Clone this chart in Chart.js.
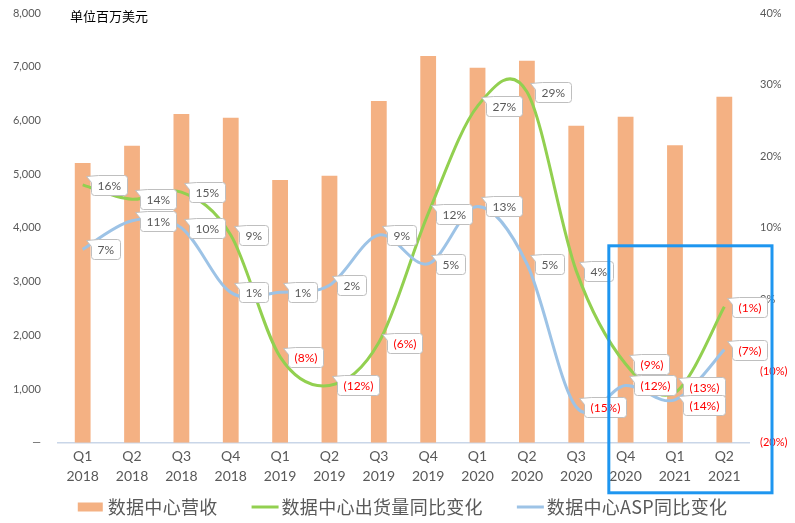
<!DOCTYPE html>
<html>
<head>
<meta charset="utf-8">
<script src="https://cdn.jsdelivr.net/npm/chart.js@4.4.1/dist/chart.umd.min.js"></script>
<style>
  html, body { margin: 0; padding: 0; background: #fff; }
  #wrap { width: 795px; height: 523px; }
</style>
</head>
<body>
<div id="wrap"><canvas id="chart"></canvas></div>
<script>
// categories
const quarters = [
  ['Q1', '2018'], ['Q2', '2018'], ['Q3', '2018'], ['Q4', '2018'],
  ['Q1', '2019'], ['Q2', '2019'], ['Q3', '2019'], ['Q4', '2019'],
  ['Q1', '2020'], ['Q2', '2020'], ['Q3', '2020'], ['Q4', '2020'],
  ['Q1', '2021'], ['Q2', '2021']
];
// data center revenue, USD million (left axis)
const revenue = [5210, 5530, 6120, 6050, 4890, 4970, 6360, 7200, 6980, 7110, 5900, 6070, 5540, 6440];
// YoY change, % (right axis)
const shipmentYoY = [16, 14, 15, 9, -8, -12, -6, 12, 27, 29, 4, -9, -13, -1];
const aspYoY = [7, 11, 10, 1, 1, 2, 9, 5, 13, 5, -15, -12, -14, -7];

const seriesNames = ['数据中心营收', '数据中心出货量同比变化', '数据中心ASP同比变化'];
const unitLabel = '单位百万美元';

const GREY = '#595959';
const RED = '#ff0000';
const fmtPct = v => v < 0 ? '(' + (-v) + '%)' : v + '%';
const cjkFont = '"Noto Sans CJK SC", "Noto Sans", sans-serif';
const numFont = 'Lato, "Liberation Sans", sans-serif';

// Excel-like smoothing: replace the bezier control points with catmull-rom ones
const excelSmooth = {
  id: 'excelSmooth',
  beforeDatasetsDraw(chart) {
    chart.data.datasets.forEach((d, di) => {
      if (d.type !== 'line') return;
      const meta = chart.getDatasetMeta(di);
      const pts = meta.dataset.points;
      pts.forEach((p, i) => {
        const prev = pts[i - 1] || p;
        const next = pts[i + 1] || p;
        const tx = (next.x - prev.x) / 6;
        const ty = (next.y - prev.y) / 6;
        p.cp1x = p.x - tx; p.cp1y = p.y - ty;
        p.cp2x = p.x + tx; p.cp2y = p.y + ty;
      });
      delete meta.dataset._path;
    });
  }
};

// callout style data labels on the two line series
const calloutLabels = {
  id: 'calloutLabels',
  afterDatasetsDraw(chart) {
    const ctx = chart.ctx;
    const h = 20, r = 3;
    ctx.save();
    ctx.font = '12px ' + numFont;
    ctx.textBaseline = 'middle';
    const lineSets = [1, 2];
    // centres, pushed apart where two labels of one quarter would collide
    const centres = lineSets.map(di => chart.getDatasetMeta(di).data.map(p => p.y));
    centres[0].forEach((c0, i) => {
      const c1 = centres[1][i];
      if (Math.abs(c0 - c1) < h - 2) {
        const mid = (c0 + c1) / 2;
        const up = c0 <= c1 ? 0 : 1;
        centres[up][i] = mid - (h - 2) / 2;
        centres[1 - up][i] = mid + (h - 2) / 2;
      }
    });
    lineSets.forEach((di, k) => {
      const meta = chart.getDatasetMeta(di);
      const values = chart.data.datasets[di].data;
      meta.data.forEach((pt, i) => {
        const text = fmtPct(values[i]);
        const w = Math.round(ctx.measureText(text).width) + 12;
        const bx = Math.round(pt.x) + 8.5;
        const by = Math.round(centres[k][i] - h / 2) + 0.5;
        ctx.beginPath();
        ctx.moveTo(bx + 7, by);
        ctx.lineTo(bx + w - r, by);
        ctx.arcTo(bx + w, by, bx + w, by + r, r);
        ctx.lineTo(bx + w, by + h - r);
        ctx.arcTo(bx + w, by + h, bx + w - r, by + h, r);
        ctx.lineTo(bx + r, by + h);
        ctx.arcTo(bx, by + h, bx, by + h - r, r);
        ctx.lineTo(bx, by + 7);
        ctx.lineTo(bx - 5, by + 1);
        ctx.closePath();
        ctx.fillStyle = '#ffffff';
        ctx.fill();
        ctx.strokeStyle = '#bfbfbf';
        ctx.lineWidth = 1;
        ctx.stroke();
        ctx.fillStyle = values[i] < 0 ? RED : GREY;
        ctx.textAlign = 'left';
        ctx.fillText(text, bx + 6, by + h / 2 + 0.5);
      });
    });
    ctx.restore();
  }
};

// unit note, highlight box and legend
const extras = {
  id: 'extras',
  afterDraw(chart) {
    const ctx = chart.ctx;
    const area = chart.chartArea;
    const x = chart.scales.x;
    const y1 = chart.scales.y1;
    ctx.save();

    ctx.font = '13px ' + cjkFont;
    ctx.fillStyle = '#000';
    ctx.textBaseline = 'middle';
    ctx.textAlign = 'left';
    ctx.fillText(unitLabel, area.left + 12, area.top + 3);

    // blue highlight around Q4 2020 - Q2 2021
    const step = x.getPixelForValue(1) - x.getPixelForValue(0);
    const left = x.getPixelForValue(11) - step * 0.34;
    const right = area.right + 23;
    const top = y1.getPixelForValue(7.5);
    const bottom = area.bottom + 50;
    ctx.strokeStyle = '#1e96f0';
    ctx.lineWidth = 3;
    ctx.strokeRect(left, top, right - left, bottom - top);

    // legend
    const ds = chart.data.datasets;
    ctx.font = '18px ' + cjkFont;
    ctx.letterSpacing = '0.3px';
    const boxW = 25, gapText = 5, gapItem = 34;
    const widths = ds.map(d => boxW + gapText + ctx.measureText(d.label).width);
    const total = widths.reduce((a, b) => a + b, 0) + gapItem * (ds.length - 1);
    let lx = (chart.width - total) / 2 + 5;
    const ly = 507;
    ds.forEach((d, i) => {
      if (d.type === 'bar') {
        ctx.fillStyle = d.backgroundColor;
        ctx.fillRect(lx, ly - 4.5, boxW, 9);
      } else {
        ctx.strokeStyle = d.borderColor;
        ctx.lineWidth = 3;
        ctx.beginPath();
        ctx.moveTo(lx, ly);
        ctx.lineTo(lx + boxW + 2, ly);
        ctx.stroke();
      }
      ctx.fillStyle = GREY;
      ctx.fillText(d.label, lx + boxW + gapText, ly);
      lx += widths[i] + gapItem;
    });
    ctx.restore();
  }
};

const noLabelOverflow = s => { s.paddingTop = 0; s.paddingBottom = 0; };

new Chart(document.getElementById('chart'), {
  data: {
    labels: quarters,
    datasets: [
      {
        type: 'bar',
        label: seriesNames[0],
        data: revenue,
        yAxisID: 'y',
        backgroundColor: '#f4b183',
        categoryPercentage: 1,
        barPercentage: 0.32,
        order: 3
      },
      {
        type: 'line',
        label: seriesNames[1],
        data: shipmentYoY,
        yAxisID: 'y1',
        borderColor: '#92d050',
        borderWidth: 3,
        pointRadius: 0,
        tension: 0.4,
        order: 2
      },
      {
        type: 'line',
        label: seriesNames[2],
        data: aspYoY,
        yAxisID: 'y1',
        borderColor: '#9dc3e6',
        borderWidth: 3,
        pointRadius: 0,
        tension: 0.4,
        order: 1
      }
    ]
  },
  options: {
    responsive: true,
    maintainAspectRatio: false,
    animation: false,
    layout: { padding: { top: 13, bottom: 33, left: 0, right: 0 } },
    plugins: {
      legend: { display: false },
      tooltip: { enabled: false }
    },
    scales: {
      x: {
        grid: { display: false, drawTicks: false },
        border: { display: true, color: '#c9d6e8', width: 1.5 },
        ticks: {
          color: GREY,
          font: { family: numFont, size: 14, lineHeight: 1.4 },
          padding: 4,
          maxRotation: 0,
          autoSkip: false
        }
      },
      y: {
        position: 'left',
        min: 0,
        max: 8000,
        grid: { display: false, drawTicks: false },
        border: { display: false },
        afterFit: s => { s.width = 58; noLabelOverflow(s); },
        ticks: {
          stepSize: 1000,
          padding: 17,
          color: GREY,
          font: { family: numFont, size: 11 },
          callback: v => v === 0 ? '—' : v.toLocaleString('en-US')
        }
      },
      y1: {
        position: 'right',
        z: 1,
        min: -20,
        max: 40,
        grid: { display: false, drawTicks: false },
        border: { display: false },
        afterFit: s => { s.width = 46; noLabelOverflow(s); },
        ticks: {
          stepSize: 10,
          padding: 11,
          color: c => c.tick && c.tick.value < 0 ? RED : GREY,
          font: { family: numFont, size: 11 },
          callback: v => fmtPct(v)
        }
      }
    }
  },
  plugins: [excelSmooth, calloutLabels, extras]
});
</script>
</body>
</html>
